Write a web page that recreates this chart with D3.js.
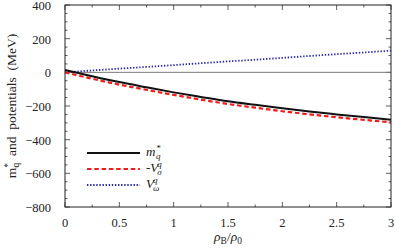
<!DOCTYPE html>
<html lang="en">
<head>
<meta charset="UTF-8">
<title>Quark effective mass and potentials</title>
<script src="https://d3js.org/d3.v7.min.js"></script>
<style>
  body { margin: 0; background: white; }
  text { font-family: "Liberation Serif"; fill: #222; }
</style>
</head>
<body>
<div id="chart"></div>
<script>
// density rho_B / rho_0
const rho = [0, 0.25, 0.5, 0.75, 1, 1.25, 1.5, 1.75, 2, 2.25, 2.5, 2.75, 3];
// m*_q (MeV)
const mStar = [14, -23, -58, -89, -119, -146, -172, -193, -213, -233, -250, -266, -281];
// -V_sigma^q (MeV)
const vSigma = [0, -38, -73, -104, -134, -162, -188, -210, -231, -250, -267, -282, -297];
// V_omega^q (MeV)
const vOmega = [0, 11, 22, 32, 43, 54, 65, 75, 86, 97, 108, 118, 129];

const xTicks = [0, 0.5, 1, 1.5, 2, 2.5, 3];
const yTicks = [-800, -600, -400, -200, 0, 200, 400];

const W = 395, H = 251;
const margin = {top: 5, right: 4, bottom: 44, left: 65};
const width = W - margin.left - margin.right,
      height = H - margin.top - margin.bottom;

const svg = d3.select("#chart").append("svg")
    .attr("width", W).attr("height", H);
const g = svg.append("g")
    .attr("transform", `translate(${margin.left},${margin.top})`);

const x = d3.scaleLinear().domain([0, 3]).range([0, width]);
const y = d3.scaleLinear().domain([-800, 400]).range([height, 0]);

const minus = s => s.replace("-", "\u2212");

// ticks, inward on all four sides
const xMinor = d3.range(0, 3.001, 0.25);
const yMinor = d3.range(-800, 400.1, 50);
const tickCol = "#333";

g.append("g").selectAll("line").data(xMinor).join("line")
    .attr("x1", d => x(d)).attr("x2", d => x(d))
    .attr("y1", height).attr("y2", d => height - (xTicks.includes(d) ? 5 : 2.5))
    .attr("stroke", tickCol).attr("stroke-width", 0.8);
g.append("g").selectAll("line").data(xMinor).join("line")
    .attr("x1", d => x(d)).attr("x2", d => x(d))
    .attr("y1", 0).attr("y2", d => (xTicks.includes(d) ? 5 : 2.5))
    .attr("stroke", tickCol).attr("stroke-width", 0.8);
g.append("g").selectAll("line").data(yMinor).join("line")
    .attr("y1", d => y(d)).attr("y2", d => y(d))
    .attr("x1", 0).attr("x2", d => (yTicks.includes(d) ? 5 : 2.5))
    .attr("stroke", tickCol).attr("stroke-width", 0.8);
g.append("g").selectAll("line").data(yMinor).join("line")
    .attr("y1", d => y(d)).attr("y2", d => y(d))
    .attr("x1", width).attr("x2", d => width - (yTicks.includes(d) ? 5 : 2.5))
    .attr("stroke", tickCol).attr("stroke-width", 0.8);

// tick labels
g.append("g").selectAll("text").data(xTicks).join("text")
    .attr("x", d => x(d)).attr("y", height + 20)
    .attr("text-anchor", "middle")
    .style("font-size", "12.5px")
    .text(d => String(d));
g.append("g").selectAll("text").data(yTicks).join("text")
    .attr("x", -14).attr("y", d => y(d) + 5)
    .attr("text-anchor", "end")
    .style("font-size", "12.5px")
    .text(d => minus(String(d)));

// zero line
g.append("line")
    .attr("x1", 0).attr("x2", width)
    .attr("y1", y(0)).attr("y2", y(0))
    .attr("stroke", "#777").attr("stroke-width", 1);

// curves
const series = [
  {vals: vOmega, color: "#2a2aa6", w: 1.8, dash: "1.4,1.7"},
  {vals: vSigma, color: "#f21c1c", w: 2.2, dash: "4.5,2.8"},
  {vals: mStar,  color: "#111",    w: 2.0, dash: null}
];
const line = d3.line()
    .x((d, i) => x(rho[i]))
    .y(d => y(d))
    .curve(d3.curveMonotoneX);
g.append("g").selectAll("path").data(series).join("path")
    .attr("d", d => line(d.vals))
    .attr("fill", "none")
    .attr("stroke", d => d.color)
    .attr("stroke-width", d => d.w)
    .attr("stroke-dasharray", d => d.dash);

// frame
g.append("rect")
    .attr("width", width).attr("height", height)
    .attr("fill", "none").attr("stroke", "#222").attr("stroke-width", 1);

// legend
const legend = [
  {s: series[2], y: 148, base: "m", sub: "q", sup: "*", pre: ""},
  {s: series[1], y: 164, base: "V", sub: "σ", sup: "q", pre: "-"},
  {s: series[0], y: 180, base: "V", sub: "ω", sup: "q", pre: ""}
];
const lg = g.selectAll(".leg").data(legend).join("g").attr("class", "leg");
lg.append("line")
    .attr("x1", 22).attr("x2", 75)
    .attr("y1", d => d.y).attr("y2", d => d.y)
    .attr("stroke", d => d.s.color)
    .attr("stroke-width", d => d.s.w)
    .attr("stroke-dasharray", d => d.s.dash);
const lt = lg.append("text")
    .attr("x", 81).attr("y", d => d.y + 3)
    .style("font-size", "13px");
lt.append("tspan").text(d => d.pre);
lt.append("tspan").style("font-style", "italic").text(d => d.base);
lt.append("tspan").attr("dy", -5).attr("dx", d => d.base === "V" ? -1 : 0.5)
    .style("font-size", "9px").style("font-style", "italic").text(d => d.sup);
lt.append("tspan").attr("dy", 8).attr("dx", -4.5)
    .style("font-size", "9px").style("font-style", "italic").text(d => d.sub);

// axis titles
const yl = svg.append("text")
    .attr("transform", `translate(16,${margin.top + height / 2}) rotate(-90)`)
    .attr("text-anchor", "middle")
    .style("font-size", "13.5px");
yl.append("tspan").text("m");
yl.append("tspan").attr("dy", -5).style("font-size", "9.5px").text("*");
yl.append("tspan").attr("dy", 8).attr("dx", -4.5).style("font-size", "9.5px").text("q");
yl.append("tspan").attr("dy", -3).text("\u00a0 and \u00a0potentials \u00a0(MeV)");

const xl = svg.append("text")
    .attr("x", margin.left + width / 2).attr("y", 241)
    .attr("text-anchor", "middle")
    .style("font-size", "13.5px");
xl.append("tspan").style("font-style", "italic").text("ρ");
xl.append("tspan").attr("dy", 3).style("font-size", "9.5px").text("B");
xl.append("tspan").attr("dy", -3).text("/");
xl.append("tspan").style("font-style", "italic").text("ρ");
xl.append("tspan").attr("dy", 3).style("font-size", "9.5px").text("0");
</script>
</body>
</html>
